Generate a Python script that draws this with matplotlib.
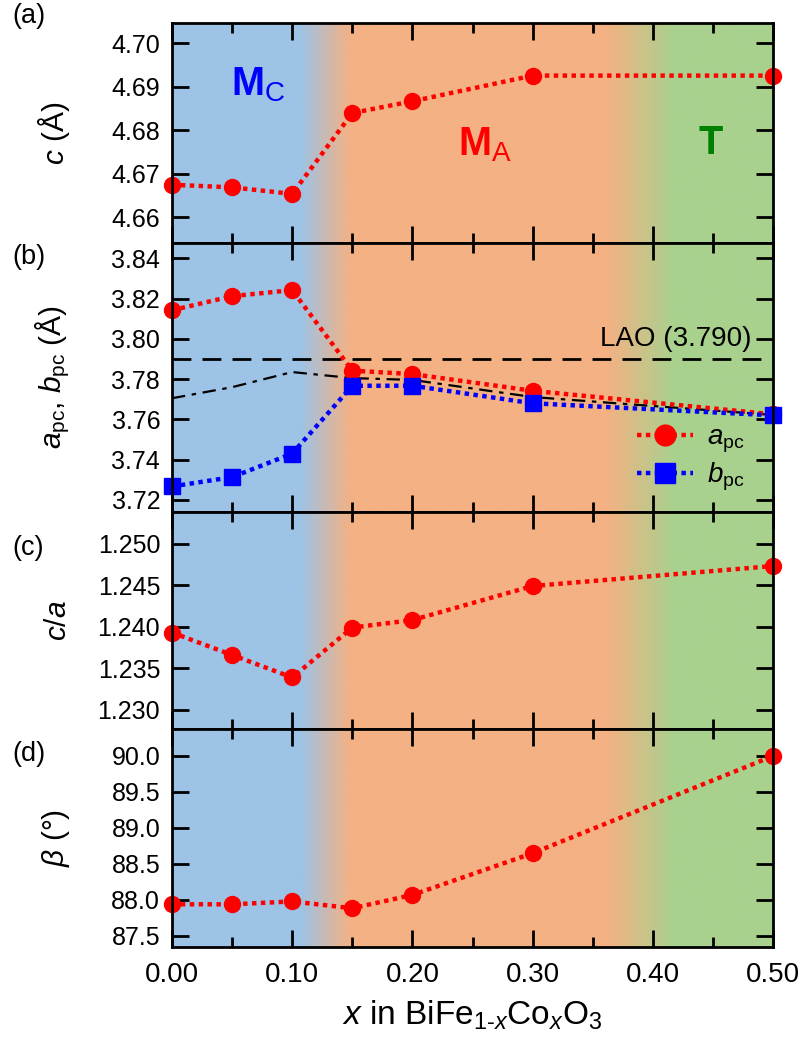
import numpy as np
import matplotlib
matplotlib.use('Agg')
import matplotlib.pyplot as plt
from matplotlib.colors import LinearSegmentedColormap
from matplotlib.ticker import FixedLocator, MultipleLocator

# ---------------- data ----------------
x = [0.00, 0.05, 0.10, 0.15, 0.20, 0.30, 0.50]
c_lat = [4.6675, 4.6669, 4.6654, 4.6840, 4.6867, 4.6926, 4.6926]
a_pc = [3.8142, 3.8212, 3.8242, 3.7842, 3.7825, 3.7742, 3.7625]
b_pc = [3.7267, 3.7313, 3.7430, 3.7767, 3.7767, 3.7680, 3.7620]
mean_ab = [3.7705, 3.7760, 3.7835, 3.7805, 3.7796, 3.7711, 3.7622]
c_over_a = [1.2393, 1.2366, 1.2339, 1.2399, 1.2408, 1.2449, 1.2473]
beta = [87.94, 87.94, 87.98, 87.885, 88.07, 88.65, 90.00]
lao = 3.790

xticks = [0.0, 0.1, 0.2, 0.3, 0.4, 0.5]
xticklabels = ['0.00', '0.10', '0.20', '0.30', '0.40', '0.50']
yticks_a = [4.66, 4.67, 4.68, 4.69, 4.70]
yticks_b = [3.72, 3.74, 3.76, 3.78, 3.80, 3.82, 3.84]
yticks_c = [1.230, 1.235, 1.240, 1.245, 1.250]
yticks_d = [87.5, 88.0, 88.5, 89.0, 89.5, 90.0]

# ---------------- style ----------------
plt.rcParams['font.family'] = ['Liberation Sans', 'DejaVu Sans']
plt.rcParams['mathtext.fontset'] = 'custom'
plt.rcParams['mathtext.rm'] = 'Liberation Sans'
plt.rcParams['mathtext.it'] = 'Liberation Sans:italic'
plt.rcParams['mathtext.bf'] = 'Liberation Sans:bold'

BLUE_BG = '#9DC3E6'
ORANGE_BG = '#F4B183'
GREEN_BG = '#A9D18E'
bg_cmap = LinearSegmentedColormap.from_list(
    'phase', [(0.0, BLUE_BG), (0.106 / 0.5, BLUE_BG), (0.148 / 0.5, ORANGE_BG),
              (0.362 / 0.5, ORANGE_BG), (0.418 / 0.5, GREEN_BG), (1.0, GREEN_BG)])

W, H = 806, 1043
fig = plt.figure(figsize=(W / 100, H / 100), dpi=100)
gs = fig.add_gridspec(4, 1, height_ratios=[220, 269, 217, 218], hspace=0,
                      left=172 / W, right=773 / W, top=1 - 23 / H, bottom=1 - 947 / H)
axes = [fig.add_subplot(gs[i]) for i in range(4)]

ylims = [(4.6541, 4.7047), (3.7140, 3.8476), (1.2277, 1.2538), (87.347, 90.375)]
yticks = [yticks_a, yticks_b, yticks_c, yticks_d]
yfmts = ['{:.2f}', '{:.2f}', '{:.3f}', '{:.1f}']

grad = np.linspace(0, 1, 800)[None, :]
for ax, yl, yt, fmt in zip(axes, ylims, yticks, yfmts):
    ax.imshow(grad, cmap=bg_cmap, extent=[0, 0.5, yl[0], yl[1]], aspect='auto',
              zorder=0, interpolation='bilinear')
    ax.set_xlim(0, 0.5)
    ax.set_ylim(*yl)
    ax.xaxis.set_major_locator(FixedLocator(xticks))
    ax.xaxis.set_minor_locator(MultipleLocator(0.05))
    ax.set_yticks(yt)
    ax.set_yticklabels([fmt.format(v) for v in yt])
    ax.tick_params(axis='both', which='major', direction='in', top=True, right=True,
                   length=12, width=2.0)
    ax.tick_params(axis='y', which='major', labelsize=18, pad=8.5)
    ax.tick_params(axis='x', which='major', labelsize=20, pad=11)
    ax.tick_params(axis='x', which='minor', direction='in', top=True, bottom=True,
                   length=7, width=2.0)
    for s in ax.spines.values():
        s.set_linewidth(2.0)
        s.set_zorder(5)
    ax.yaxis.set_label_coords(-0.166, 0.5)
    if ax is not axes[-1]:
        ax.tick_params(axis='x', labelbottom=False)

red_kw = dict(color='#FF0000', marker='o', markersize=11.5, linestyle=(0, (1, 1)),
              linewidth=3.2, clip_on=False, zorder=4)
blue_kw = dict(color='#0000FF', marker='s', markersize=11.5, linestyle=(0, (1, 1)),
               linewidth=3.2, clip_on=False, zorder=4)

# (a)
ax = axes[0]
ax.plot(x, c_lat, **red_kw)
ax.set_ylabel(r'$c$ (Å)', fontsize=21.5)
ax.text(0.049, 4.6880, r'$\mathbf{M}_{\mathrm{C}}$', color='#0000FF', fontsize=28.5,
        ha='left', va='baseline', zorder=3)
ax.text(0.238, 4.6743, r'$\mathbf{M}_{\mathrm{A}}$', color='#FF0000', fontsize=28.5,
        ha='left', va='baseline', zorder=3)
ax.text(0.4376, 4.6745, r'$\mathbf{T}$', color='#008000', fontsize=28.5,
        ha='left', va='baseline', zorder=3)

# (b)
ax = axes[1]
ax.axhline(lao, color='black', linewidth=2, dashes=(6.8, 4), zorder=2)
ax.plot(x, mean_ab, color='black', linewidth=1.6, dashes=(6, 3, 2, 3), zorder=3)
ax.plot(x, a_pc, label=r'$a_{\mathrm{pc}}$', **red_kw)
ax.plot(x, b_pc, label=r'$b_{\mathrm{pc}}$', **blue_kw)
ax.text(0.4825, 3.7965, 'LAO (3.790)', fontsize=20, ha='right', va='baseline', zorder=3)
ax.set_ylabel(r'$a_{\mathrm{pc}}$, $b_{\mathrm{pc}}$ (Å)', fontsize=21.5)
leg = ax.legend(loc='center left', bbox_to_anchor=(0.774, (3.7404 - 3.7140) / (3.8476 - 3.7140)),
                frameon=False, fontsize=20, handlelength=2.0, handletextpad=0.5,
                labelspacing=0.2, borderpad=0, borderaxespad=0, numpoints=1, markerscale=1.3)

# (c)
ax = axes[2]
ax.plot(x, c_over_a, **red_kw)
ax.set_ylabel(r'$c$/$a$', fontsize=21.5)

# (d)
ax = axes[3]
ax.plot(x, beta, **red_kw)
ax.set_ylabel(r'$\mathit{β}$ (°)', fontsize=21.5)
ax.set_xticks(xticks)
ax.set_xticklabels(xticklabels)
ax.set_xlabel(r'$x$ in BiFe$_{1\text{-}x}$Co$_{x}$O$_{3}$', fontsize=24)
ax.xaxis.set_label_coords(0.5, -(1015 - 947) / 218)
ax.xaxis.label.set_va('center')

# panel labels
for lab, ypx in zip(['(a)', '(b)', '(c)', '(d)'], [16, 257, 548, 754]):
    fig.text(12 / W, 1 - ypx / H, lab, fontsize=19.5, ha='left', va='center')

fig.savefig('out.png', dpi=100)
